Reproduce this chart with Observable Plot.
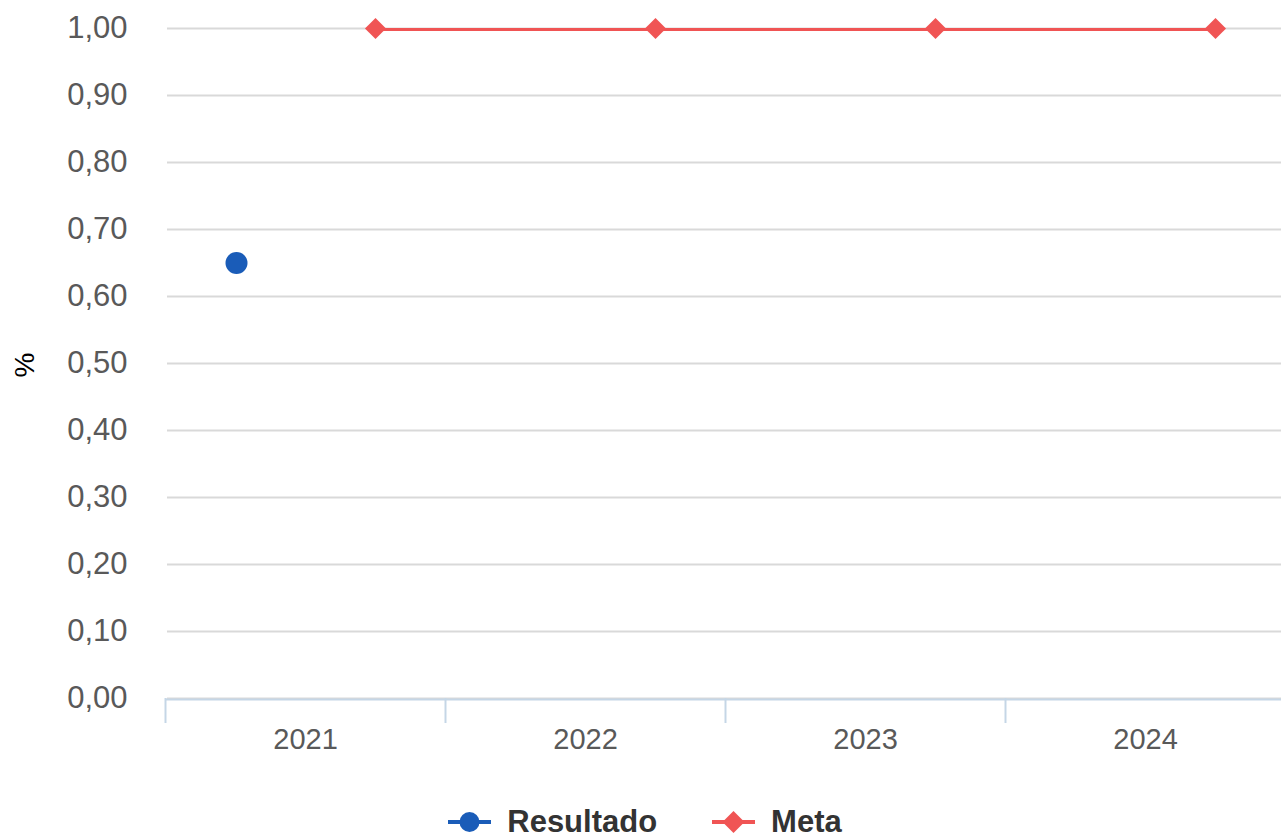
<!DOCTYPE html>
<html>
<head>
<meta charset="utf-8">
<script src="https://cdn.jsdelivr.net/npm/d3@7"></script>
<script src="https://cdn.jsdelivr.net/npm/@observablehq/plot@0.6"></script>
<style>
  html, body { margin: 0; padding: 0; background: #fff; overflow: hidden; width: 1281px; height: 839px; }
  body { font-family: "Liberation Sans", Arial, sans-serif; }
  #chart { width: 1281px; overflow: hidden; }
  #legend { display: flex; justify-content: center; align-items: center; width: 1290px; padding-top: 17px; height: 30px; line-height: 30px; }
  .item { display: flex; align-items: center; font-weight: bold; font-size: 31px; color: #333; }
  .item svg { margin-right: 16px; }
  .item + .item { margin-left: 55px; }
</style>
</head>
<body>
<div id="chart"></div>
<div id="legend"></div>
<script>
const years = [2021, 2022, 2023, 2024];
const resultadoValues = [0.65, null, null, null];
const metaValues = [1.00, 1.00, 1.00, 1.00];
const yTicks = [0, 0.1, 0.2, 0.3, 0.4, 0.5, 0.6, 0.7, 0.8, 0.9, 1.0];
const seriesNames = ["Resultado", "Meta"];
const seriesColors = ["#1a5cb8", "#f05454"];

const resultado = years.map((year, i) => ({year, value: resultadoValues[i]})).filter(d => d.value != null);
const meta = years.map((year, i) => ({year, value: metaValues[i]}));
const boundaries = [...years.map(y => y - 0.5), years[years.length - 1] + 0.5];

const axisColor = "#c5d6e6";
const textColor = "#595959";

const chart = Plot.plot({
  width: 1285,
  height: 790,
  marginTop: 28,
  marginBottom: 92,
  marginLeft: 165,
  marginRight: 0,
  style: { fontFamily: '"Liberation Sans", Arial, sans-serif', background: "#fff", maxWidth: "none" },
  x: { type: "linear", domain: [boundaries[0], boundaries[boundaries.length - 1]] },
  y: { domain: [0, 1] },
  marks: [
    Plot.gridY(yTicks, { stroke: "#d9d9d9", strokeOpacity: 1, strokeWidth: 2, insetLeft: 2 }),
    Plot.axisY(yTicks, {
      tickSize: 0, tickPadding: 38, fontSize: 31, fill: textColor,
      tickFormat: d => d.toFixed(2).replace(".", ","), label: null
    }),
    Plot.text(["%"], { frameAnchor: "left", dx: -140, dy: 14, rotate: -90, fontSize: 28, fill: "#000" }),
    Plot.ruleY([0], { stroke: axisColor, strokeWidth: 2, dy: 1 }),
    Plot.axisX(boundaries, { tickSize: 25, stroke: axisColor, strokeWidth: 2, tickFormat: () => "", label: null }),
    Plot.axisX(years, { tickSize: 0, tickPadding: 30, fontSize: 29, fill: textColor, tickFormat: d => String(d), label: null }),
    Plot.line(meta, { x: "year", y: "value", dx: 70, dy: 1, stroke: seriesColors[1], strokeWidth: 3 }),
    Plot.dot(meta, { x: "year", y: "value", dx: 70, symbol: "diamond2", r: 9.5, fill: seriesColors[1], stroke: "none" }),
    Plot.dot(resultado, { x: "year", y: "value", dx: -69, r: 11, fill: seriesColors[0], stroke: "none" })
  ]
});
document.getElementById("chart").appendChild(chart);

const legend = document.getElementById("legend");
seriesNames.forEach((name, i) => {
  const item = document.createElement("div");
  item.className = "item";
  const marker = i === 0
    ? `<circle cx="21.5" cy="15" r="10" fill="${seriesColors[i]}"/>`
    : `<path d="M21.5 4 L32.5 15 L21.5 26 L10.5 15 Z" fill="${seriesColors[i]}"/>`;
  item.innerHTML = `<svg width="43" height="30" viewBox="0 0 43 30"><line x1="0" y1="15" x2="43" y2="15" stroke="${seriesColors[i]}" stroke-width="4"/>${marker}</svg><span>${name}</span>`;
  legend.appendChild(item);
});
</script>
</body>
</html>
